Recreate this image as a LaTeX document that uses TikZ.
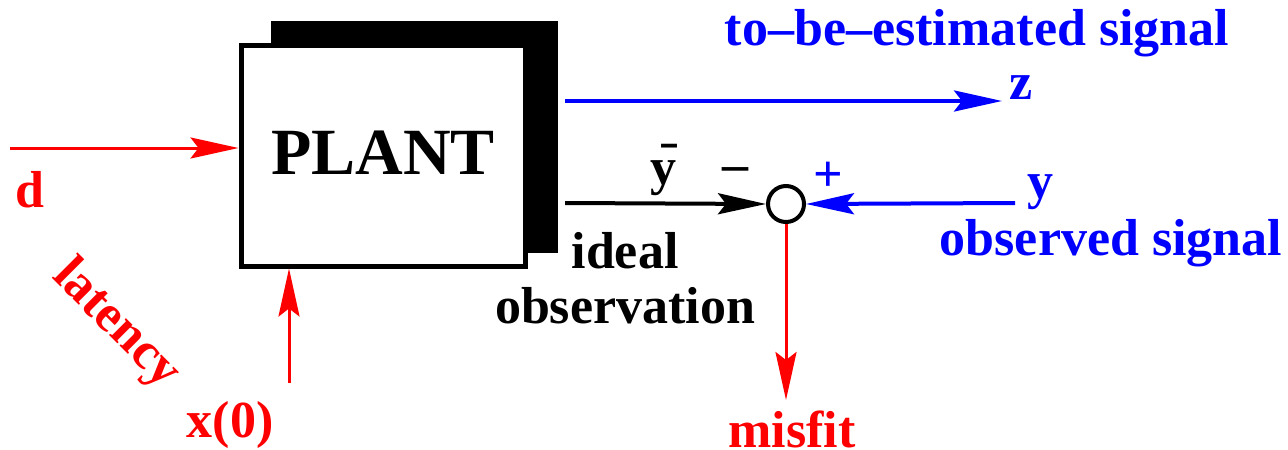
\documentclass[tikz,border=0pt]{standalone}
\usepackage{fontspec}
\setmainfont{Liberation Serif}[BoldFont={Liberation Serif Bold}]
\usetikzlibrary{arrows.meta,positioning}

\tikzset{
    sig/.style={line width=2pt, -{Stealth[length=24pt,width=10.5pt,inset=4pt]}},
    txt/.style={font=\fontsize{26}{27.5}\selectfont\bfseries, inner sep=0pt},
}
\newcommand{\ybarlab}{\ooalign{\hfil\raisebox{4pt}{\={}}\hfil\cr y\cr}}

\begin{document}
\begin{tikzpicture}[x=0.5pt, y=-0.5pt]
    \useasboundingbox (0,0) rectangle (1288,449);

    % --- BLOQUE ---
    \node (shadow) at (414.5,137) [fill=black, minimum width=143.5pt, minimum height=116pt] {};
    \node (plant) at (383,156) [draw, fill=white, line width=2.5pt, minimum width=142pt,
        minimum height=110pt, font=\fontsize{33}{36}\selectfont\bfseries] {\raisebox{3pt}{PLANT}};

    % Sumador
    \node (sum) at (786,204) [circle, draw, line width=2pt, minimum size=18pt, inner sep=0pt] {};

    % Extremos libres
    \coordinate (dIn) at (10,148);
    \coordinate (xIn) at (289,383);
    \coordinate (zOut) at (565,101);
    \coordinate (zEnd) at (1002,101);
    \coordinate (ybOut) at (565,203);
    \coordinate (yIn) at (1015,203);
    \coordinate (misEnd) at (786,400);

    % --- FLECHAS ---
    \draw[sig, red, line width=1.5pt] (dIn) -- (dIn -| plant.west);
    \draw[sig, red, line width=1.5pt] (xIn) -- (xIn |- plant.south);
    \draw[sig, blue] (zOut) -- (zEnd);
    \draw[sig] (ybOut) -- (sum.west);
    \draw[sig, blue] (yIn) -- (sum.east);
    \draw[sig, red, line width=1.5pt] (sum.south) -- (misEnd);

    % --- ETIQUETAS ---
    \node (dLab)   at (30,190)  [txt, red] {d};
    \node (x0Lab)  at (230,425) [txt, red] {x(0)};
    \node (latLab) at (116,325) [txt, red, rotate=-45] {latency};
    \node (estLab) at (977,33)  [txt, blue] {to--be--estimated signal};
    \node (zLab)   at (1021,88) [txt, blue] {z};
    \node (ybLab)  at (663,170) [txt] {\ybarlab};
    \node (minus)  at (735,175) [txt] {--};
    \node (plus)   at (828,177) [txt, blue] {+};
    \node (yLab)   at (1040,192) [txt, blue] {y};
    \node (obsLab) at (1111,243) [txt, blue] {observed signal};
    \node (idLab)  at (625,278) [txt, align=center] {ideal\\observation};
    \node (misLab) at (792,429) [txt, red] {misfit};
\end{tikzpicture}
\end{document}
